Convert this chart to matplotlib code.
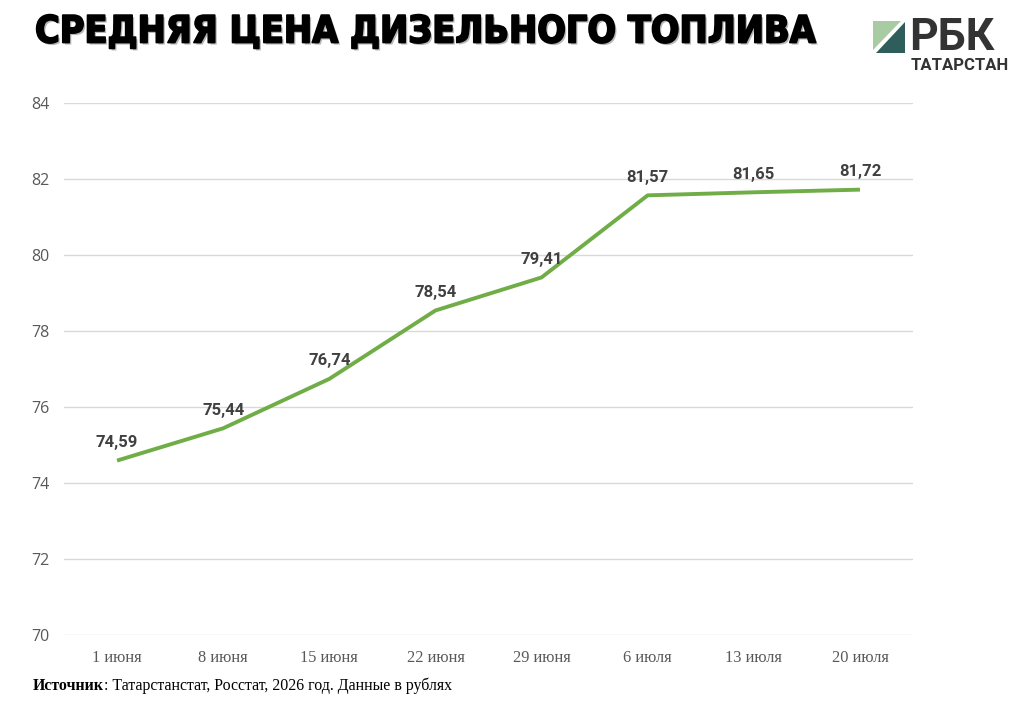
import matplotlib
matplotlib.use("Agg")
import matplotlib.pyplot as plt
import matplotlib.patheffects as pe
from matplotlib.patches import Polygon

categories = ["1 июня", "8 июня", "15 июня", "22 июня", "29 июня", "6 июля", "13 июля", "20 июля"]
values = [74.59, 75.44, 76.74, 78.54, 79.41, 81.57, 81.65, 81.72]
yticks = [70, 72, 74, 76, 78, 80, 82, 84]

W, H = 1023, 721
fig = plt.figure(figsize=(W / 100, H / 100), dpi=100)
fig.patch.set_facecolor("white")

ax = fig.add_axes([64 / W, 1 - 635 / H, (913 - 64) / W, (635 - 103) / H])
x = list(range(len(categories)))
ax.plot(x, values, color="#70AD47", lw=2.8, solid_capstyle="butt", zorder=3)
for xi, v in zip(x, values):
    ax.annotate(f"{v:.2f}".replace(".", ","), (xi, v), xytext=(0, 7.5), textcoords="offset points",
                ha="center", va="bottom", fontsize=12, fontweight="bold", family="Roboto",
                color="#404040", zorder=4)

ax.set_xlim(-0.5, len(categories) - 0.5)
ax.set_ylim(70, 84)
ax.set_yticks(yticks)
ax.set_yticklabels([str(t) for t in yticks], family="Open Sans", fontsize=11.5, color="#595959")
ax.set_xticks(x)
ax.set_xticklabels(categories, family="Liberation Serif", fontsize=11.8, color="#595959")
ax.tick_params(axis="both", length=0)
ax.tick_params(axis="y", pad=10.5)
ax.tick_params(axis="x", pad=11)
ax.grid(axis="y", color="#d9d9d9", lw=1)
ax.set_axisbelow(True)
for s in ax.spines.values():
    s.set_visible(False)

# Title
title = fig.text(35 / W, 1 - 32.5 / H, "СРЕДНЯЯ ЦЕНА ДИЗЕЛЬНОГО ТОПЛИВА", ha="left", va="center",
                 fontsize=27, fontweight="heavy", family="DejaVu Sans", stretch="condensed",
                 color="black",
                 path_effects=[pe.withSimplePatchShadow(offset=(1.5, -1.5), shadow_rgbFace="#888888", alpha=0.6),
                               pe.Stroke(linewidth=1.3, foreground="black"), pe.Normal()])

# Logo
def fx(px):
    return px / W

def fy(py):
    return 1 - py / H

fig.patches.append(Polygon([(fx(873), fy(21)), (fx(901), fy(21)), (fx(873), fy(50))],
                           closed=True, transform=fig.transFigure, facecolor="#a9cba3", edgecolor="none"))
fig.patches.append(Polygon([(fx(905), fy(22)), (fx(905), fy(53)), (fx(876), fy(53))],
                           closed=True, transform=fig.transFigure, facecolor="#2e5d5c", edgecolor="none"))
fig.text(fx(909), fy(37.5), "РБК", ha="left", va="center", fontsize=32, fontweight="bold",
         family="Roboto", color="#333333")
fig.text(fx(911), fy(66), "ТАТАРСТАН", ha="left", va="center", fontsize=12, fontweight="bold",
         family="Roboto", color="#333333")

# Footer
t1 = fig.text(33 / W, 1 - 686 / H, "Источник", ha="left", va="center", fontsize=11.4,
              fontweight="bold", family="Liberation Serif", color="black")
fig.canvas.draw()
bb = t1.get_window_extent()
fig.text(bb.x1 / W, 1 - 686 / H, ": Татарстанстат, Росстат, 2026 год. Данные в рублях", ha="left",
         va="center", fontsize=11.4, family="Liberation Serif", color="black")

fig.savefig("out.png", dpi=100, facecolor="white")
